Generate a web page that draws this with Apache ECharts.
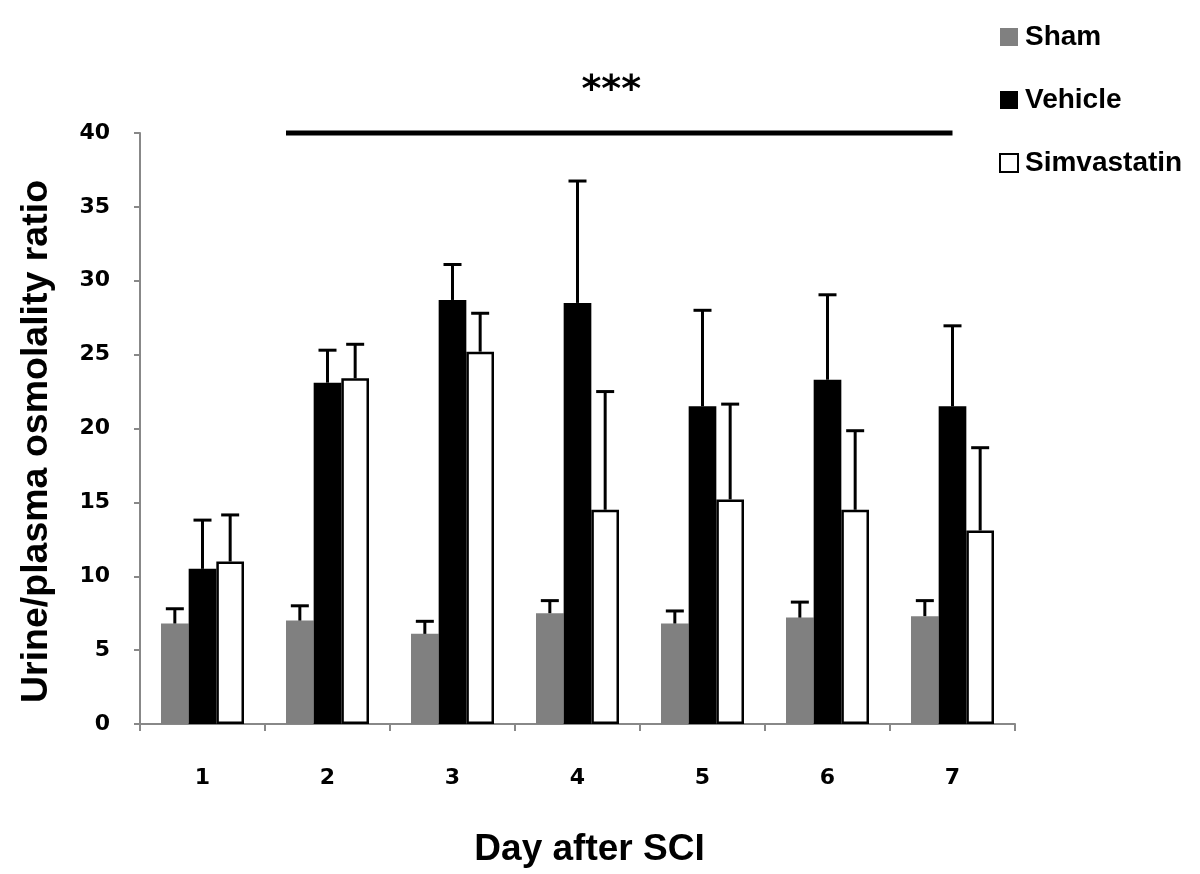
<!DOCTYPE html>
<html>
<head>
<meta charset="utf-8">
<script src="https://cdn.jsdelivr.net/npm/echarts@6/dist/echarts.min.js"></script>
<style>
html,body{margin:0;padding:0;background:#fff;}
#chart{width:1200px;height:874px;}
</style>
</head>
<body>
<div id="chart"></div>
<script>
var days = ['1', '2', '3', '4', '5', '6', '7'];
var seriesNames = ['Sham', 'Vehicle', 'Simvastatin'];
var sham = [6.8, 7.0, 6.1, 7.5, 6.8, 7.2, 7.3];
var shamErr = [1.0, 1.0, 0.85, 0.85, 0.85, 1.05, 1.05];
var vehicle = [10.5, 23.1, 28.7, 28.5, 21.5, 23.3, 21.5];
var vehicleErr = [3.3, 2.2, 2.4, 8.25, 6.5, 5.75, 5.45];
var simva = [11.0, 23.4, 25.2, 14.5, 15.2, 14.5, 13.1];
var simvaErr = [3.15, 2.3, 2.6, 8.0, 6.45, 5.35, 5.6];
var yTicks = { min: 0, max: 40, interval: 5 };
var sigFrom = '2';
var sigTo = '7';
var sigLevel = 40;
var sigLabel = '***';

var catGap = 0.336;
var chart = echarts.init(document.getElementById('chart'));

function errData(vals, errs) {
  return vals.map(function (v, i) { return [i, v, v + errs[i]]; });
}
function errSeries(vals, errs, slot) {
  return {
    type: 'custom',
    silent: true,
    z: 5,
    renderItem: function (params, api) {
      var idx = api.value(0);
      var p0 = api.coord([idx, api.value(1)]);
      var p1 = api.coord([idx, api.value(2)]);
      var band = api.size([1, 0])[0];
      var bw = band * (1 - catGap) / 3;
      var x = p0[0] + (slot - 1) * bw;
      var half = 9;
      return {
        type: 'group',
        children: [
          { type: 'line', shape: { x1: x, y1: p0[1], x2: x, y2: p1[1] }, style: { stroke: '#000', lineWidth: 3 } },
          { type: 'line', shape: { x1: x - half, y1: p1[1], x2: x + half, y2: p1[1] }, style: { stroke: '#000', lineWidth: 3 } }
        ]
      };
    },
    data: errData(vals, errs)
  };
}

var labelFont = { fontFamily: 'DejaVu Sans', fontWeight: 'bold', fontSize: 22, color: '#000' };

var option = {
  animation: false,
  backgroundColor: '#fff',
  grid: { left: 140, top: 133, width: 875, height: 591 },
  legend: {
    orient: 'vertical',
    left: 994,
    top: 18,
    itemWidth: 18,
    itemHeight: 18,
    itemGap: 35,
    icon: 'rect',
    data: seriesNames,
    textStyle: { fontFamily: 'Liberation Sans', fontWeight: 'bold', fontSize: 28, color: '#000', padding: [0, 0, 0, 2] }
  },
  xAxis: {
    type: 'category',
    data: days,
    axisLine: { lineStyle: { color: '#888', width: 2 } },
    axisTick: { show: true, length: 7, lineStyle: { color: '#888', width: 2 } },
    axisLabel: Object.assign({ margin: 43 }, labelFont),
    name: 'Day after SCI',
    nameLocation: 'middle',
    nameGap: 107,
    nameTextStyle: { fontFamily: 'Liberation Sans', fontWeight: 'bold', fontSize: 37, color: '#000', padding: [0, 0, 0, 24] }
  },
  yAxis: {
    type: 'value',
    min: yTicks.min,
    max: yTicks.max,
    interval: yTicks.interval,
    splitLine: { show: false },
    axisLine: { show: true, lineStyle: { color: '#888', width: 2 } },
    axisTick: { show: true, length: 6, lineStyle: { color: '#888', width: 2 } },
    axisLabel: Object.assign({ margin: 30 }, labelFont),
    name: 'Urine/plasma osmolality ratio',
    nameLocation: 'middle',
    nameRotate: 90,
    nameGap: 84,
    nameTextStyle: { fontFamily: 'Liberation Sans', fontWeight: 'bold', fontSize: 37.5, color: '#000', padding: [0, 26, 0, 0] }
  },
  series: [
    { name: 'Sham', type: 'bar', data: sham, barGap: '0%', barCategoryGap: (catGap * 100) + '%',
      itemStyle: { color: '#808080' } },
    { name: 'Vehicle', type: 'bar', data: vehicle, barGap: '0%', barCategoryGap: (catGap * 100) + '%',
      itemStyle: { color: '#000000' } },
    { name: 'Simvastatin', type: 'bar', data: simva, barGap: '0%', barCategoryGap: (catGap * 100) + '%',
      itemStyle: { color: '#ffffff', borderColor: '#000', borderWidth: 2.5 } },
    errSeries(sham, shamErr, 0),
    errSeries(vehicle, vehicleErr, 1),
    errSeries(simva, simvaErr, 2),
    {
      type: 'custom',
      silent: true,
      z: 6,
      renderItem: function (params, api) {
        var a = api.coord([api.value(0), api.value(2)]);
        var b = api.coord([api.value(1), api.value(2)]);
        var band = api.size([1, 0])[0];
        var bw = band * (1 - catGap) / 3;
        var x1 = a[0] - 1.5 * bw;
        var x2 = b[0];
        return {
          type: 'group',
          children: [
            { type: 'line', shape: { x1: x1, y1: a[1], x2: x2, y2: a[1] }, style: { stroke: '#000', lineWidth: 5 } },
            { type: 'text', style: { text: sigLabel, x: (x1 + x2) / 2 - 8, y: a[1] - 42, align: 'center', verticalAlign: 'middle',
              font: 'bold 38px "DejaVu Sans"', fill: '#000' } }
          ]
        };
      },
      data: [[days.indexOf(sigFrom), days.indexOf(sigTo), sigLevel]]
    }
  ]
};
chart.setOption(option);
</script>
</body>
</html>
